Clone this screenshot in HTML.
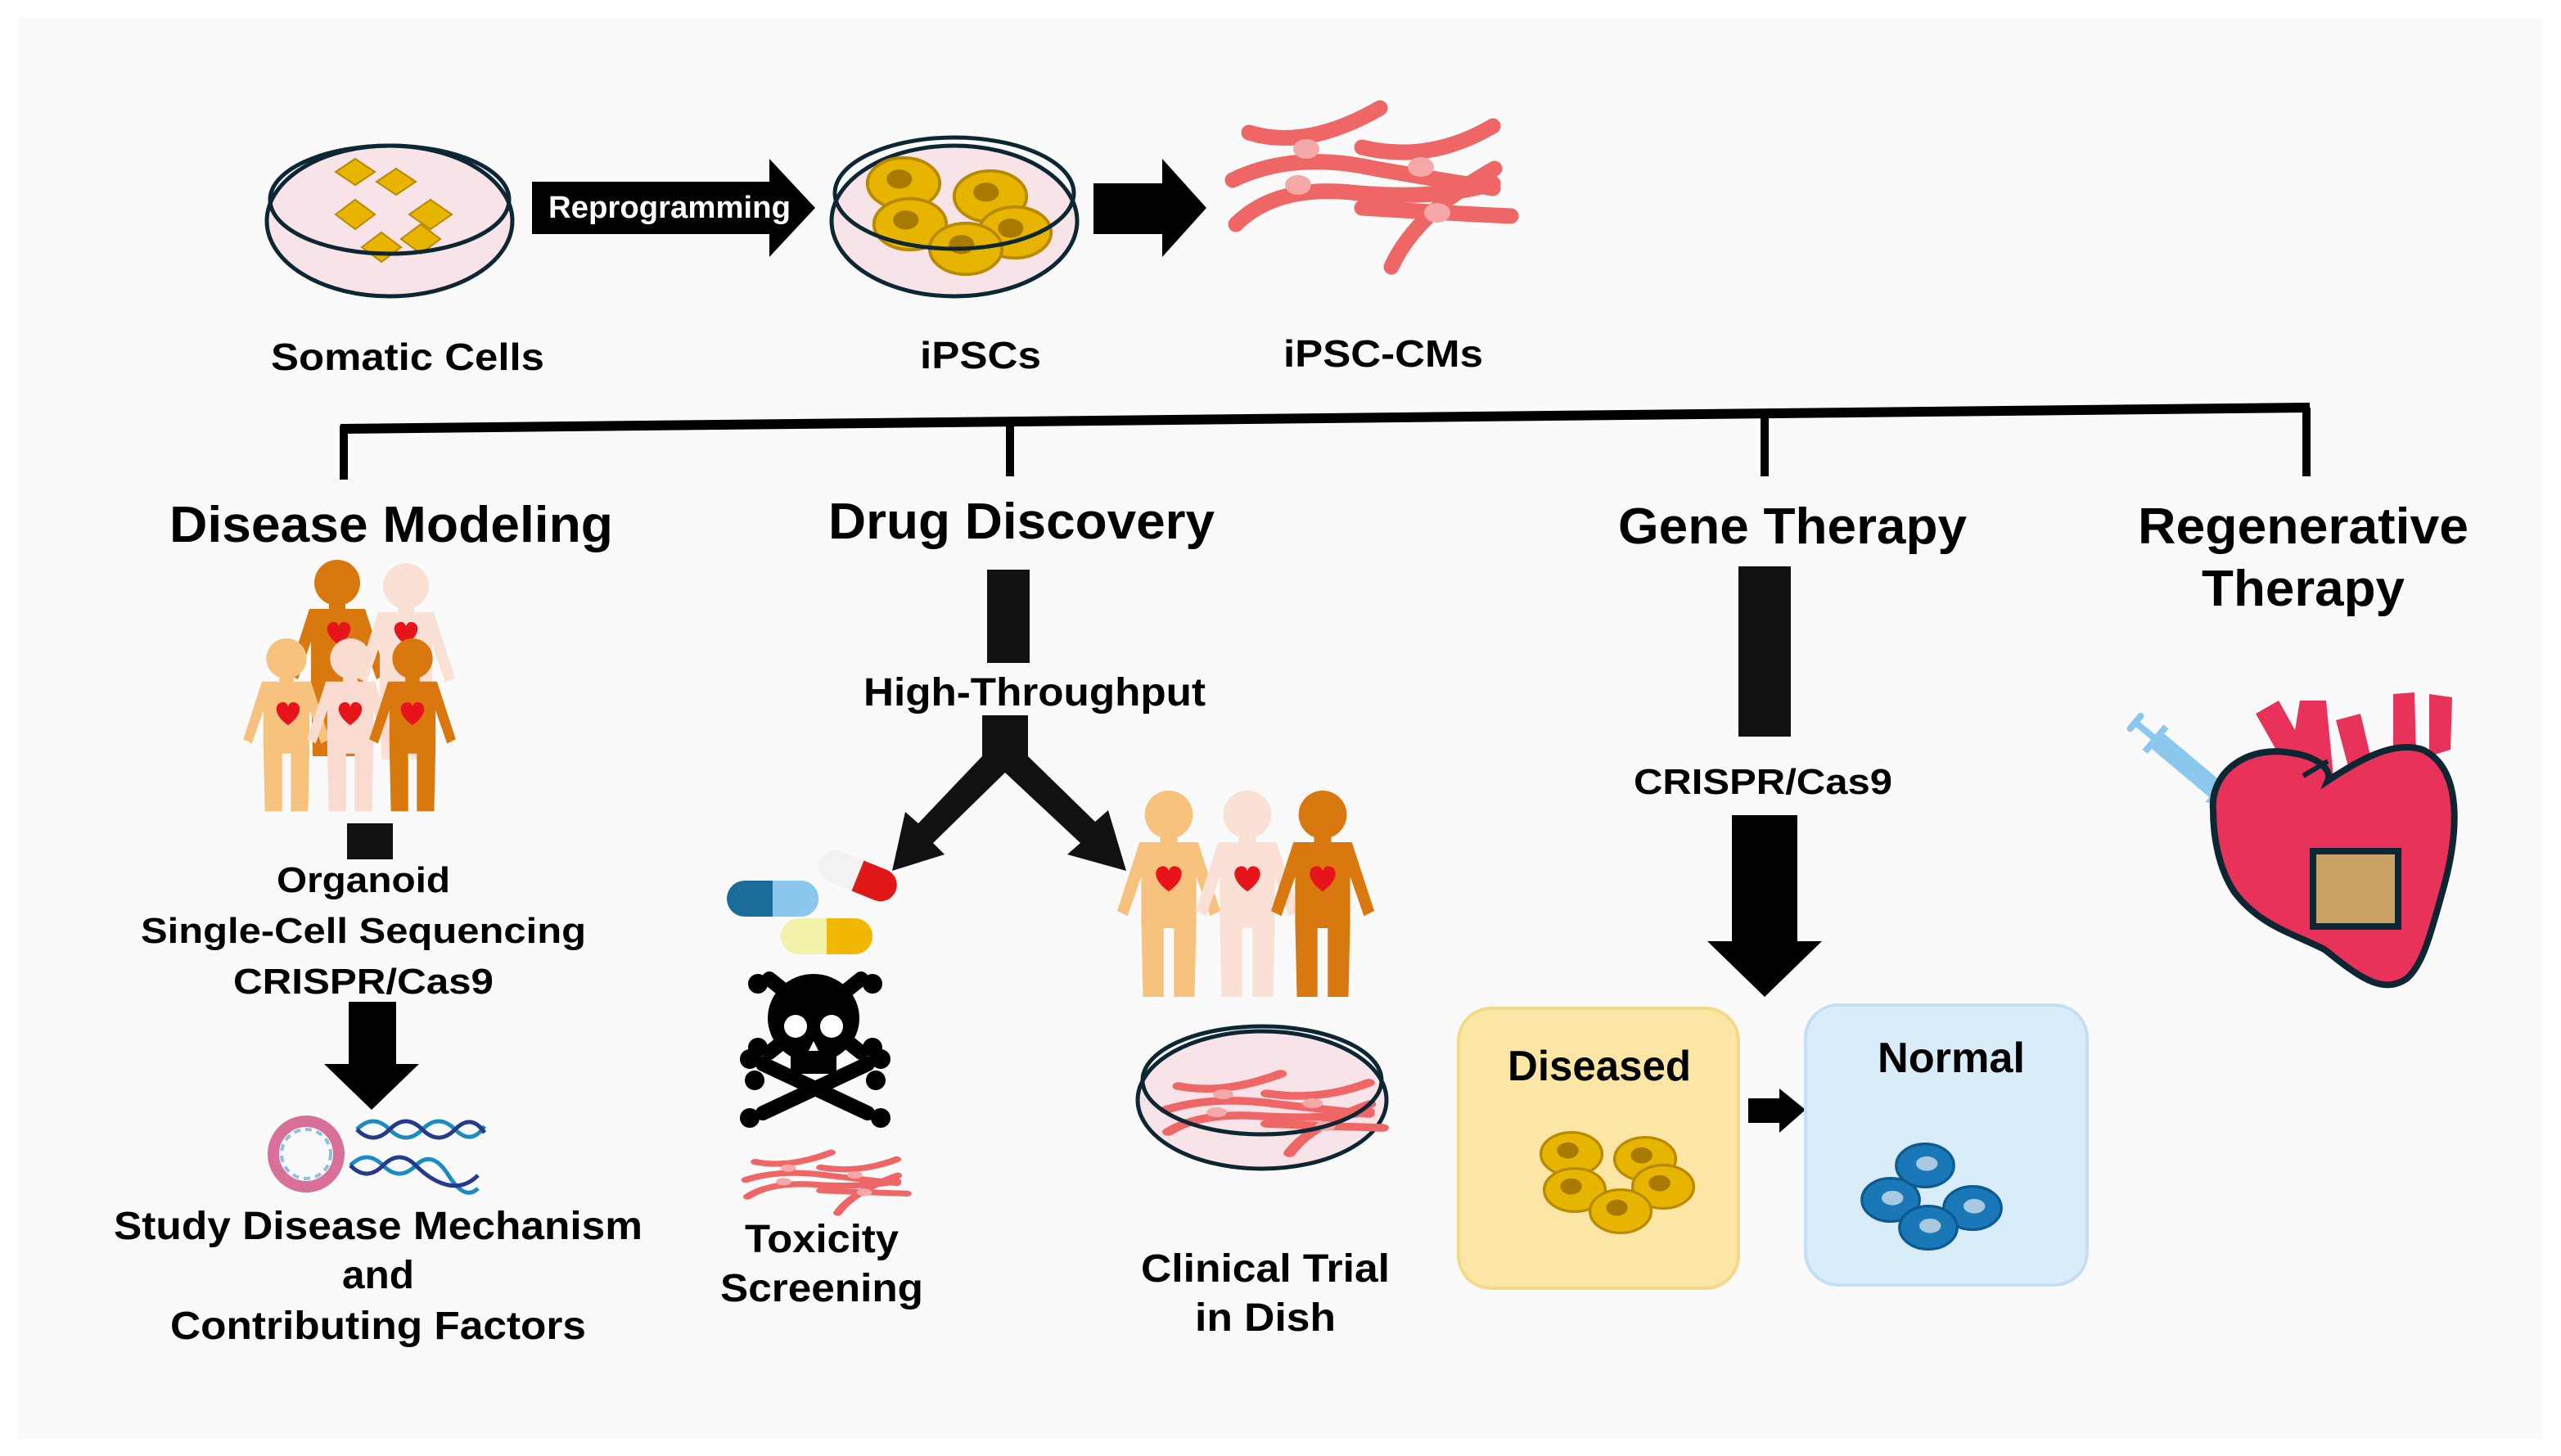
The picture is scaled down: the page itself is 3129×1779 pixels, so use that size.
<!DOCTYPE html>
<html><head><meta charset="utf-8"><style>
html,body{margin:0;padding:0;background:#fff;}
svg{display:block;}
text{font-family:"Liberation Sans",Arial,sans-serif;font-weight:bold;fill:#000;}
</style></head><body>
<svg width="3129" height="1779" viewBox="0 0 1564.5 889.5" xmlns="http://www.w3.org/2000/svg">
<defs>
<g id="cm">
 <g fill="none" stroke="#ee6666" stroke-width="9.5" stroke-linecap="round">
  <path d="M23,31 Q58,42 103,16"/>
  <path d="M92,40 Q133,50 172,27"/>
  <path d="M13,60 Q50,42 100,53 Q140,60 172,65"/>
  <path d="M15,87 Q40,62 90,68 Q140,72 172,62"/>
  <path d="M92,77 Q140,80 183,82"/>
  <path d="M110,113 Q125,80 173,53"/>
 </g>
 <g fill="#f4a8a8"><ellipse cx="58" cy="41" rx="8" ry="6"/><ellipse cx="128" cy="52" rx="8" ry="6"/><ellipse cx="53" cy="63" rx="8" ry="6"/><ellipse cx="138" cy="80" rx="8" ry="6"/></g>
</g>
<g id="person">
 <circle cx="0" cy="14" r="14"/>
 <rect x="-5" y="25" width="10" height="8"/>
 <path d="M-17,30 L17,30 L30,70 L24,73 L16,50 L16,76 L15,120 L3,120 L3,80 L-3,80 L-3,120 L-15,120 L-16,76 L-16,50 L-24,73 L-30,70 Z"/>
</g>
<g id="heart"><path d="M0,6 C-10,-1 -8,-8 -3,-8 C-1,-8 0,-6 0,-5 C0,-6 1,-8 3,-8 C8,-8 10,-1 0,6Z" fill="#e8141c"/></g>
<g id="ycell"><ellipse cx="0" cy="0" rx="17" ry="12" fill="#e7b400" stroke="#b88a00" stroke-width="1.5"/><ellipse cx="-2" cy="-2" rx="6" ry="4.5" fill="#a97a00"/></g>
<g id="bcell"><ellipse cx="0" cy="0" rx="16" ry="12" fill="#1a78b8" stroke="#0d5a90" stroke-width="1.5"/><ellipse cx="1" cy="-1" rx="6" ry="4" fill="#a9c9e0"/></g>
</defs>
<rect width="1564.5" height="889.5" fill="#fff"/>
<rect x="11" y="11" width="1542" height="868" fill="#fafafa"/>

<!-- Dish 1 -->
<ellipse cx="238" cy="135" rx="75" ry="46" fill="#f8e4e8" stroke="#0c2733" stroke-width="2.5"/>
<g fill="#e7b400" stroke="#b88a00" stroke-width="1">
 <path d="M205,105 l12,-8 l12,8 l-12,8z"/><path d="M230,111 l12,-8 l12,8 l-12,8z"/>
 <path d="M205,131 l12,-9 l12,9 l-12,9z"/><path d="M250,131 l13,-9 l13,9 l-13,9z"/>
 <path d="M221,151 l12,-9 l12,9 l-12,9z"/><path d="M245,146 l12,-9 l12,9 l-12,9z"/>
</g>
<ellipse cx="238" cy="122" rx="73" ry="33" fill="none" stroke="#0c2733" stroke-width="2.5"/>
<!-- Reprogramming arrow -->
<path d="M325,111 L470,111 L470,97 L498,127 L470,157 L470,143 L325,143 Z" fill="#000"/>
<text x="409" y="133" font-size="19" style="fill:#fff" text-anchor="middle" textLength="148" lengthAdjust="spacingAndGlyphs">Reprogramming</text>
<!-- Dish 2 -->
<ellipse cx="583" cy="135" rx="75" ry="46" fill="#f8e4e8" stroke="#0c2733" stroke-width="2.5"/>
<g>
 <use href="#ycell" transform="translate(552,112) scale(1.3)"/>
 <use href="#ycell" transform="translate(605,120) scale(1.3)"/>
 <use href="#ycell" transform="translate(556,137) scale(1.3)"/>
 <use href="#ycell" transform="translate(620,142) scale(1.3)"/>
 <use href="#ycell" transform="translate(590,152) scale(1.3)"/>
</g>
<ellipse cx="583" cy="118" rx="73" ry="34" fill="none" stroke="#0c2733" stroke-width="2.5"/>
<!-- Arrow 2 -->
<path d="M668,112 L710,112 L710,97 L737,127 L710,157 L710,143 L668,143 Z" fill="#000"/>
<!-- iPSC-CMs -->
<use href="#cm" transform="translate(740,50)"/>
<text x="249" y="226" font-size="23" text-anchor="middle" textLength="167" lengthAdjust="spacingAndGlyphs">Somatic Cells</text>
<text x="599" y="225" font-size="23" text-anchor="middle" textLength="74" lengthAdjust="spacingAndGlyphs">iPSCs</text>
<text x="845" y="224" font-size="23" text-anchor="middle" textLength="122" lengthAdjust="spacingAndGlyphs">iPSC-CMs</text>

<!-- bracket -->
<path d="M208,262 L1411,249" stroke="#000" stroke-width="6"/>
<g stroke="#000" stroke-width="5" fill="none">
 <path d="M210,260 V293"/><path d="M617,258 V291"/><path d="M1078,254 V291"/><path d="M1409,249 V291"/>
</g>

<!-- headings -->
<text x="239" y="331" font-size="31" text-anchor="middle" textLength="271" lengthAdjust="spacingAndGlyphs">Disease Modeling</text>
<text x="624" y="329" font-size="31" text-anchor="middle" textLength="236" lengthAdjust="spacingAndGlyphs">Drug Discovery</text>
<text x="1095" y="332" font-size="31" text-anchor="middle" textLength="213" lengthAdjust="spacingAndGlyphs">Gene Therapy</text>
<text x="1407" y="332" font-size="31" text-anchor="middle" textLength="202" lengthAdjust="spacingAndGlyphs">Regenerative</text>
<text x="1407" y="370" font-size="31" text-anchor="middle" textLength="124" lengthAdjust="spacingAndGlyphs">Therapy</text>

<!-- Disease modeling family -->
<g>
 <use href="#person" fill="#d9780f" transform="translate(206,342) scale(1.0)"/>
 <use href="#heart" transform="translate(207,388)"/>
 <use href="#person" fill="#fbe0d6" transform="translate(248,344) scale(1.0)"/>
 <use href="#heart" transform="translate(248,388)"/>
 <use href="#person" fill="#f7c27e" transform="translate(175,390) scale(0.88)"/>
 <use href="#heart" transform="translate(176,437)"/>
 <use href="#person" fill="#f9dbd0" transform="translate(214,390) scale(0.88)"/>
 <use href="#heart" transform="translate(214,437)"/>
 <use href="#person" fill="#d9780f" transform="translate(252,390) scale(0.88)"/>
 <use href="#heart" transform="translate(252,437)"/>
</g>
<rect x="212" y="503" width="28" height="22" fill="#111"/>
<text x="222" y="545" font-size="22" text-anchor="middle" textLength="106" lengthAdjust="spacingAndGlyphs">Organoid</text>
<text x="222" y="576" font-size="22" text-anchor="middle" textLength="272" lengthAdjust="spacingAndGlyphs">Single-Cell Sequencing</text>
<text x="222" y="607" font-size="22" text-anchor="middle" textLength="159" lengthAdjust="spacingAndGlyphs">CRISPR/Cas9</text>
<path d="M213,612 L242,612 L242,650 L256,650 L227,678 L198,650 L213,650 Z" fill="#000"/>
<!-- plasmid + DNA -->
<circle cx="187" cy="705" r="20" fill="none" stroke="#d9709a" stroke-width="7"/>
<circle cx="187" cy="705" r="15" fill="none" stroke="#8ac2e0" stroke-width="2" stroke-dasharray="4 3"/>
<g fill="none" stroke-width="2.5">
 <path d="M218,690 Q228,680 238,690 T258,690 T278,690 T296,688" stroke="#1a8cc0"/>
 <path d="M218,690 Q228,700 238,690 T258,690 T278,690 T296,692" stroke="#243a8a"/>
 <path d="M214,712 Q224,702 234,712 T254,712 T274,718 T292,726" stroke="#1a8cc0"/>
 <path d="M214,712 Q224,722 234,712 T254,712 T274,724 T292,718" stroke="#243a8a"/>
</g>
<text x="231" y="757" font-size="24" text-anchor="middle" textLength="323" lengthAdjust="spacingAndGlyphs">Study Disease Mechanism</text>
<text x="231" y="787" font-size="24" text-anchor="middle" textLength="44" lengthAdjust="spacingAndGlyphs">and</text>
<text x="231" y="818" font-size="24" text-anchor="middle" textLength="254" lengthAdjust="spacingAndGlyphs">Contributing Factors</text>

<!-- Drug discovery -->
<rect x="603" y="348" width="26" height="57" fill="#111"/>
<text x="632" y="431" font-size="24" text-anchor="middle" textLength="209" lengthAdjust="spacingAndGlyphs">High-Throughput</text>
<path d="M600,437 L628,437 L628,462 L669,502 L677,495 L688,532 L652,522 L660,515 L614,472 L570,515 L577,522 L545,532 L553,496 L561,503 L600,462 Z" fill="#111"/>
<!-- pills -->
<g>
 <g transform="translate(524,535) rotate(22)"><rect x="-25" y="-10" width="50" height="20" rx="10" fill="#f2f2f2"/><path d="M0,-10 H15 A10,10 0 0 1 15,10 H0Z" fill="#e01818"/></g>
 <g transform="translate(472,549)"><rect x="-28" y="-11" width="56" height="22" rx="11" fill="#1a6c9a"/><path d="M0,-11 H17 A11,11 0 0 1 17,11 H0Z" fill="#8cc8ee"/></g>
 <g transform="translate(505,572)"><rect x="-28" y="-11" width="56" height="22" rx="11" fill="#f2f2a8"/><path d="M0,-11 H17 A11,11 0 0 1 17,11 H0Z" fill="#f2b700"/></g>
</g>
<!-- skull -->
<g fill="#000">
 <path d="M470,643 L526,598 M470,598 L526,643" stroke="#000" stroke-width="9" stroke-linecap="round"/>
 <circle cx="463" cy="601" r="6"/><circle cx="533" cy="601" r="6"/><circle cx="463" cy="640" r="6"/><circle cx="533" cy="640" r="6"/>
 <circle cx="461" cy="660" r="6"/><circle cx="535" cy="660" r="6"/>
 <path d="M466,680 L530,650 M466,650 L530,680" stroke="#000" stroke-width="9" stroke-linecap="round"/>
 <circle cx="458" cy="683" r="6"/><circle cx="538" cy="683" r="6"/><circle cx="458" cy="647" r="6"/><circle cx="538" cy="647" r="6"/>
 <ellipse cx="497" cy="622" rx="28" ry="27"/>
 <rect x="483" y="636" width="28" height="20" rx="3"/>
 <ellipse cx="486" cy="627" rx="7" ry="7" fill="#fff"/><ellipse cx="508" cy="627" rx="7" ry="7" fill="#fff"/>
 <path d="M497,636 l-3,6 h6z" fill="#fff"/>
</g>
<use href="#cm" transform="translate(448,698) scale(0.58,0.38)"/>
<text x="502" y="765" font-size="24" text-anchor="middle" textLength="94" lengthAdjust="spacingAndGlyphs">Toxicity</text>
<text x="502" y="795" font-size="24" text-anchor="middle" textLength="124" lengthAdjust="spacingAndGlyphs">Screening</text>
<!-- three people -->
<use href="#person" fill="#f7c27e" transform="translate(714,483) scale(1.05)"/>
<use href="#heart" transform="translate(714,538) scale(1.1)"/>
<use href="#person" fill="#fbe0d6" transform="translate(762,483) scale(1.05)"/>
<use href="#heart" transform="translate(762,538) scale(1.1)"/>
<use href="#person" fill="#d9780f" transform="translate(808,483) scale(1.05)"/>
<use href="#heart" transform="translate(808,538) scale(1.1)"/>
<!-- dish 3 -->
<ellipse cx="771" cy="672" rx="76" ry="42" fill="#f8e4e8" stroke="#0c2733" stroke-width="2.5"/>
<use href="#cm" transform="translate(702,648) scale(0.78,0.5)"/>
<ellipse cx="771" cy="660" rx="73" ry="33" fill="none" stroke="#0c2733" stroke-width="2.5"/>
<text x="773" y="783" font-size="24" text-anchor="middle" textLength="152" lengthAdjust="spacingAndGlyphs">Clinical Trial</text>
<text x="773" y="813" font-size="24" text-anchor="middle" textLength="86" lengthAdjust="spacingAndGlyphs">in Dish</text>

<!-- Gene therapy -->
<rect x="1062" y="346" width="32" height="104" fill="#111"/>
<text x="1077" y="485" font-size="22" text-anchor="middle" textLength="158" lengthAdjust="spacingAndGlyphs">CRISPR/Cas9</text>
<path d="M1058,498 L1098,498 L1098,575 L1113,575 L1078,609 L1043,575 L1058,575 Z" fill="#000"/>
<rect x="891" y="616" width="171" height="171" rx="20" fill="#fbe6a6" stroke="#f4d98a" stroke-width="2"/>
<text x="977" y="660" font-size="26" text-anchor="middle" textLength="112" lengthAdjust="spacingAndGlyphs">Diseased</text>
<use href="#ycell" transform="translate(960,705) scale(1.1)"/>
<use href="#ycell" transform="translate(1005,708) scale(1.1)"/>
<use href="#ycell" transform="translate(962,727) scale(1.1)"/>
<use href="#ycell" transform="translate(1016,725) scale(1.1)"/>
<use href="#ycell" transform="translate(990,740) scale(1.1)"/>
<path d="M1068,671 L1087,671 L1087,665 L1103,678 L1087,692 L1087,686 L1068,686 Z" fill="#000"/>
<rect x="1103" y="614" width="172" height="171" rx="20" fill="#d8ecfa" stroke="#c4dff2" stroke-width="2"/>
<text x="1192" y="655" font-size="26" text-anchor="middle" textLength="90" lengthAdjust="spacingAndGlyphs">Normal</text>
<use href="#bcell" transform="translate(1155,733) scale(1.1)"/>
<use href="#bcell" transform="translate(1205,738) scale(1.1)"/>
<use href="#bcell" transform="translate(1178,750) scale(1.1)"/>
<use href="#bcell" transform="translate(1176,712) scale(1.1)"/>

<!-- Regenerative therapy heart -->
<g fill="#e8325a">
 <path d="M1378,436 L1392,428 L1402,446 L1405,428 L1421,428 L1426,480 L1404,482 Z"/>
 <path d="M1427,440 L1442,436 L1450,470 L1436,474 Z"/>
 <path d="M1462,424 L1475,423 L1476,460 L1462,462 Z"/>
 <path d="M1484,424 L1498,426 L1497,458 L1484,462 Z"/>
</g>
<g fill="#8cc8ee" transform="translate(1303,440) rotate(40)">
 <rect x="0" y="-7" width="4" height="14" rx="2"/>
 <rect x="3" y="-2" width="14" height="4"/>
 <rect x="16" y="-10" width="4" height="20"/>
 <rect x="19" y="-6" width="48" height="12"/>
 <path d="M66,-10 L72,-6 L72,6 L66,10 Z"/>
</g>
<path d="M1352,495 C1350,470 1375,455 1400,460 C1415,462 1425,470 1422,477 C1440,465 1462,452 1480,458 C1505,470 1502,510 1492,545 C1485,570 1480,590 1470,598 C1455,608 1440,596 1420,580 C1400,570 1380,565 1365,545 C1355,530 1352,510 1352,495 Z" fill="#e8325a" stroke="#0c2733" stroke-width="4"/>
<path d="M1407,474 L1422,465" stroke="#0c2733" stroke-width="3"/>
<rect x="1413" y="520" width="52" height="46" fill="#c9a264" stroke="#0c2733" stroke-width="4"/>
</svg>
</body></html>
